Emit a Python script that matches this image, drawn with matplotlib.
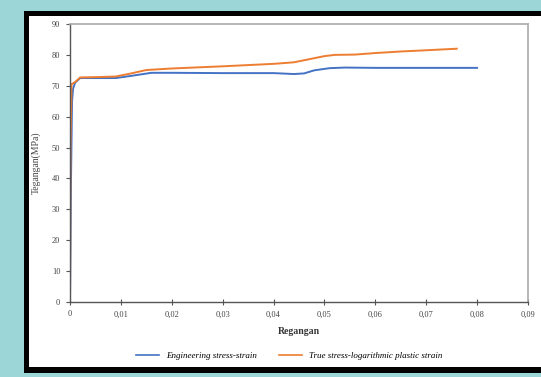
import matplotlib
matplotlib.use("Agg")
import matplotlib.pyplot as plt
from matplotlib.patches import Rectangle
from matplotlib.lines import Line2D
from matplotlib.ticker import FuncFormatter, MultipleLocator

eng_x = [0, 0.0002, 0.0004, 0.0006, 0.001, 0.002, 0.005, 0.009, 0.012, 0.016, 0.02,
         0.03, 0.04, 0.044, 0.046, 0.048, 0.051, 0.054, 0.06, 0.07, 0.08]
eng_y = [0, 40, 65, 69, 71, 72.5, 72.5, 72.5, 73.2, 74.2, 74.2,
         74.1, 74.1, 73.8, 74.0, 75.0, 75.7, 75.9, 75.8, 75.8, 75.8]

true_x = [0, 0.0001, 0.0003, 0.001, 0.002, 0.005, 0.009, 0.012, 0.015, 0.02, 0.03,
          0.04, 0.044, 0.047, 0.05, 0.052, 0.056, 0.06, 0.065, 0.07, 0.076]
true_y = [0, 50, 70.5, 71.2, 72.7, 72.8, 73.0, 74.0, 75.1, 75.6, 76.3,
          77.1, 77.6, 78.6, 79.6, 80.0, 80.1, 80.6, 81.1, 81.5, 82.0]

labels = ["Engineering stress-strain", "True stress-logarithmic plastic strain"]
xlabel = "Regangan"
ylabel = "Tegangan(MPa)"

BLUE = "#4472C4"
ORANGE = "#ED7D31"
TEAL = "#9dd6d6"

fig = plt.figure(figsize=(5.41, 3.77), dpi=100)
fig.patch.set_facecolor(TEAL)
W, H = 541, 377
# black frame with white inside
fig.patches.append(Rectangle((24 / W, 1 - 373 / H), (W - 24) / W + 0.05, (373 - 11) / H,
                             transform=fig.transFigure, facecolor="black", edgecolor="none", zorder=-2))
fig.patches.append(Rectangle((29 / W, 1 - 367 / H), (W - 29) / W + 0.05, (367 - 16) / H,
                             transform=fig.transFigure, facecolor="white", edgecolor="none", zorder=-1))

ax = fig.add_axes([70 / W, 1 - 302 / H, (528 - 70) / W, (302 - 24) / H])
ax.set_zorder(3)
ax.set_facecolor("white")
ax.plot(eng_x, eng_y, color=BLUE, lw=1.4, label=labels[0])
ax.plot(true_x, true_y, color=ORANGE, lw=1.4, label=labels[1])

ax.set_xlim(0, 0.09)
ax.set_ylim(0, 90)
ax.xaxis.set_major_locator(MultipleLocator(0.01))
ax.yaxis.set_major_locator(MultipleLocator(10))

def xfmt(v, pos):
    s = f"{v:.2f}".rstrip("0").rstrip(".")
    return s.replace(".", ",")

ax.xaxis.set_major_formatter(FuncFormatter(xfmt))
ax.yaxis.set_major_formatter(FuncFormatter(lambda v, p: f"{v:.0f}"))

serif = ["Liberation Serif", "DejaVu Serif"]
for lab in ax.get_xticklabels() + ax.get_yticklabels():
    lab.set_fontfamily(serif)
    lab.set_fontsize(6)
    lab.set_color("#444444")

for s in ["top", "right"]:
    ax.spines[s].set_color("#aaaaaa")
    ax.spines[s].set_linewidth(1.2)
for s in ["left", "bottom"]:
    ax.spines[s].set_color("#555555")
    ax.spines[s].set_linewidth(1.0)
ax.tick_params(axis="x", direction="inout", length=4, width=0.8, color="#555555", pad=4)
ax.tick_params(axis="y", direction="out", length=3, width=0.8, color="#555555", pad=4)

ax.set_xlabel(xlabel, fontfamily=serif, fontsize=7, fontweight="bold", color="#333333", labelpad=6)
ax.set_ylabel(ylabel, fontfamily=serif, fontsize=7, color="#444444", labelpad=8)

handles = [Line2D([], [], color=BLUE, lw=1.2), Line2D([], [], color=ORANGE, lw=1.2)]
leg = fig.legend(handles, labels, loc="center", bbox_to_anchor=(0.535, 1 - 356 / H), ncol=2,
                 frameon=False, handlelength=2.5, columnspacing=2.5,
                 prop={"family": serif, "style": "italic", "size": 6.5})
leg.set_zorder(4)

fig.savefig("out.png", dpi=100, facecolor=TEAL)
